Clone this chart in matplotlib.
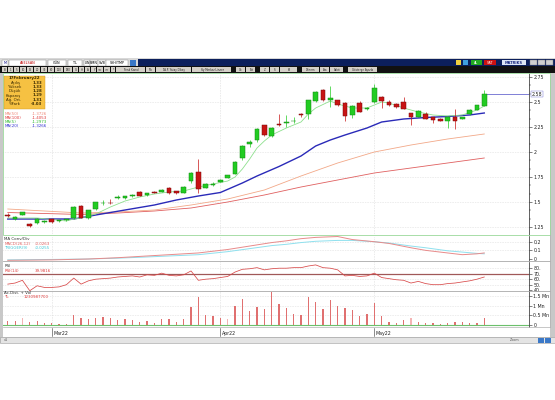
import matplotlib.pyplot as plt
import matplotlib.patches as mpatches
from matplotlib.transforms import blended_transform_factory
from matplotlib.ticker import MultipleLocator
import numpy as np

W, H = 555, 400

# daily candles, one per trading day (late Feb 2022 .. May 2022)
opens = [1.37, 1.33, 1.375, 1.285, 1.29, 1.30, 1.33, 1.31, 1.32, 1.34,
         1.465, 1.345, 1.43, 1.49, 1.495, 1.545, 1.54, 1.56, 1.605, 1.57,
         1.605, 1.605, 1.645, 1.61, 1.595, 1.71, 1.805, 1.645, 1.675, 1.705,
         1.745, 1.785, 1.945, 2.085, 2.12, 2.265, 2.16, 2.28, 2.295, 2.31,
         2.38, 2.38, 2.515, 2.62, 2.52, 2.52, 2.49, 2.37, 2.49, 2.43,
         2.50, 2.545, 2.505, 2.475, 2.50, 2.39, 2.355, 2.38, 2.35, 2.335,
         2.315, 2.35, 2.335, 2.38, 2.425, 2.465]
highs = [1.39, 1.365, 1.405, 1.29, 1.34, 1.32, 1.335, 1.325, 1.335, 1.46,
         1.47, 1.425, 1.50, 1.52, 1.53, 1.57, 1.565, 1.58, 1.61, 1.595,
         1.61, 1.63, 1.65, 1.615, 1.66, 1.80, 1.935, 1.69, 1.70, 1.735,
         1.775, 1.91, 2.07, 2.12, 2.24, 2.27, 2.25, 2.38, 2.37, 2.35,
         2.39, 2.52, 2.61, 2.63, 2.66, 2.525, 2.50, 2.47, 2.51, 2.45,
         2.68, 2.56, 2.52, 2.49, 2.55, 2.395, 2.42, 2.40, 2.355, 2.34,
         2.36, 2.43, 2.355, 2.43, 2.475, 2.62]
lows = [1.35, 1.32, 1.37, 1.255, 1.28, 1.295, 1.29, 1.305, 1.315, 1.33,
        1.34, 1.335, 1.42, 1.475, 1.48, 1.53, 1.535, 1.55, 1.56, 1.565,
        1.59, 1.60, 1.585, 1.585, 1.59, 1.69, 1.59, 1.64, 1.665, 1.70,
        1.74, 1.78, 1.925, 2.05, 2.10, 2.16, 2.15, 2.265, 2.25, 2.29,
        2.355, 2.33, 2.50, 2.515, 2.45, 2.46, 2.31, 2.34, 2.40, 2.42,
        2.49, 2.44, 2.46, 2.44, 2.43, 2.275, 2.35, 2.33, 2.29, 2.31,
        2.245, 2.235, 2.33, 2.375, 2.42, 2.46]
closes = [1.365, 1.355, 1.40, 1.26, 1.33, 1.31, 1.30, 1.32, 1.33, 1.455,
          1.345, 1.42, 1.495, 1.495, 1.49, 1.55, 1.56, 1.575, 1.565, 1.59,
          1.595, 1.625, 1.595, 1.59, 1.655, 1.795, 1.63, 1.68, 1.68, 1.725,
          1.77, 1.905, 2.06, 2.10, 2.235, 2.17, 2.245, 2.27, 2.30, 2.31,
          2.365, 2.515, 2.605, 2.52, 2.545, 2.47, 2.36, 2.465, 2.405, 2.435,
          2.645, 2.51, 2.475, 2.45, 2.435, 2.345, 2.41, 2.335, 2.32, 2.315,
          2.35, 2.315, 2.35, 2.425, 2.47, 2.58]

# volume in millions
volumes = [0.21, 0.21, 0.35, 0.18, 0.21, 0.12, 0.12, 0.09, 0.09, 0.53,
           0.35, 0.32, 0.39, 0.42, 0.39, 0.28, 0.32, 0.25, 0.18, 0.21,
           0.12, 0.30, 0.32, 0.18, 0.32, 0.91, 1.44, 0.53, 0.49, 0.39,
           0.32, 0.98, 1.33, 0.74, 0.95, 0.81, 1.67, 1.09, 0.88, 0.60,
           0.53, 1.44, 1.19, 0.84, 1.28, 0.96, 0.88, 0.77, 0.46, 0.56,
           1.12, 0.49, 0.18, 0.11, 0.28, 0.35, 0.18, 0.11, 0.11, 0.07,
           0.11, 0.18, 0.18, 0.11, 0.14, 0.39]
light_vol_days = [2, 30, 55]

# moving averages (day index, value)
ma5_days = [0, 4, 8, 9, 10, 12, 14, 16, 18, 20, 22, 24, 26, 28, 30, 31, 32, 33,
            34, 35, 36, 38, 40, 41, 42, 44, 45, 47, 49, 51, 52, 54, 56, 58, 60,
            62, 64, 65]
ma5 = [1.34, 1.34, 1.31, 1.33, 1.34, 1.38, 1.45, 1.51, 1.55, 1.58, 1.60, 1.61,
       1.65, 1.68, 1.71, 1.75, 1.83, 1.93, 2.04, 2.11, 2.17, 2.24, 2.30, 2.38,
       2.44, 2.51, 2.48, 2.44, 2.44, 2.50, 2.49, 2.44, 2.40, 2.37, 2.36, 2.37,
       2.42, 2.46]
ma20_days = [0, 5, 9, 12, 16, 20, 23, 26, 29, 32, 34, 37, 40, 42, 44, 46, 49,
             51, 54, 57, 60, 63, 65]
ma20 = [1.33, 1.33, 1.33, 1.37, 1.42, 1.47, 1.52, 1.56, 1.595, 1.69, 1.76,
        1.855, 1.96, 2.06, 2.12, 2.17, 2.24, 2.30, 2.33, 2.345, 2.355, 2.37, 2.39]
ma50_days = [0, 5, 10, 15, 20, 25, 30, 35, 40, 45, 50, 55, 60, 65]
ma50 = [1.43, 1.41, 1.39, 1.40, 1.42, 1.47, 1.53, 1.62, 1.76, 1.89, 2.00,
        2.07, 2.13, 2.18]
ma100_days = [0, 5, 10, 15, 20, 25, 30, 35, 40, 45, 50, 55, 60, 65]
ma100 = [1.395, 1.385, 1.375, 1.39, 1.41, 1.44, 1.50, 1.57, 1.65, 1.72, 1.79,
         1.84, 1.89, 1.94]

# MACD(26,12) and trigger(9)
macd_days = [0, 6, 11, 15, 18, 22, 26, 30, 33, 36, 38, 40, 42, 45, 47, 50, 52,
             55, 57, 60, 62, 64, 65]
macd = [-0.015, -0.01, 0.0, 0.015, 0.03, 0.05, 0.07, 0.11, 0.15, 0.19, 0.21,
        0.235, 0.25, 0.26, 0.225, 0.20, 0.18, 0.13, 0.10, 0.07, 0.05, 0.06, 0.07]
trigger = [-0.01, -0.005, 0.0, 0.01, 0.02, 0.035, 0.05, 0.085, 0.12, 0.155,
           0.17, 0.19, 0.205, 0.215, 0.215, 0.20, 0.185, 0.15, 0.13, 0.095,
           0.08, 0.065, 0.06]

# RSI(14)
rsi = [51, 53, 58, 39, 48, 45, 45, 46, 50, 62, 51, 57, 60, 61, 62, 64, 65, 66,
       64, 68, 67, 71, 67, 66, 68, 75, 58, 60, 61, 63, 65, 73, 78, 79, 81, 77,
       79, 80, 80, 81, 81, 84, 86, 81, 80, 77, 66, 67, 65, 66, 71, 63, 61, 59,
       58, 53, 56, 52, 50, 50, 52, 53, 55, 57, 60, 64]

month_days = [6, 29, 50]
month_labels = ['Mar22', 'Apr22', 'May22']

price_ticks = [1.25, 1.5, 1.75, 2.0, 2.25, 2.5, 2.75]
price_labels = ['1.25', '1.5', '1.75', '2', '2.25', '2.5', '2.75']
macd_ticks = [0, 0.1, 0.2]
macd_labels = ['0', '0.1', '0.2']
rsi_ticks = [40, 50, 60, 70, 80]
rsi_labels = ['40.', '50.', '60.', '70.', '80.']
vol_ticks = [0, 0.5, 1.0, 1.5]
vol_labels = ['0', '0.5 Mn', '1 Mn', '1.5 Mn']

info_rows = [('Açılış', '1.33'), ('Yüksek', '1.33'), ('Düşük', '1.28'),
             ('Kapanış', '1.29'), ('Ağ. Ort.', '1.31'), ('%Fark', '-3.03')]

GREEN_UP = '#22cc22'
RED_DN = '#c81414'
TXT = 3.4

fig = plt.figure(figsize=(W / 100, H / 100), dpi=100)
fig.patch.set_facecolor('white')

# window chrome drawn in pixel coords
bg = fig.add_axes([0, 0, 1, 1], zorder=0)
bg.set_xlim(0, W)
bg.set_ylim(H, 0)
bg.axis('off')


def rect(ax, x0, y0, x1, y1, fc, ec='none', lw=0.0):
    ax.add_patch(mpatches.Rectangle((x0, y0), x1 - x0, y1 - y0, facecolor=fc,
                                    edgecolor=ec, linewidth=lw))


rect(bg, 0, 58, W, 343, '#c8c8c8')
rect(bg, 3, 73, 550, 337, 'white')
rect(bg, 0, 337, W, 343, '#e4e4e4', '#a0a0a0', 0.4)

# title row
rect(bg, 0, 58, W, 66, '#d8d8d8')
rect(bg, 138, 59, W, 66, '#0c1f5c')
for x0, x1, lab, col in [(2, 8, 'M', 'navy'), (9, 46, 'ASELSAN', '#c00000'),
                         (48, 66, 'GÜN', 'black'), (68, 82, 'TL', 'black'),
                         (84, 90, 'LIN', 'black'), (90, 98, 'RMN', 'black'),
                         (98, 106, 'SVB', 'black'), (106, 128, 'SYH/TMP', 'black')]:
    rect(bg, x0, 59.5, x1, 65.5, 'white', '#808080', 0.3)
    bg.text((x0 + x1) / 2, 62.7, lab, fontsize=2.4, color=col, ha='center', va='center')
rect(bg, 130, 59.5, 136, 65.5, '#3a78c8')
rect(bg, 456, 60, 461, 65, '#f0d040')
rect(bg, 463, 60, 468, 65, '#40a0e0')
rect(bg, 471, 60, 482, 65, '#22aa22')
bg.text(476.5, 62.6, 'AL', fontsize=2.4, color='white', ha='center', va='center')
rect(bg, 484, 60, 496, 65, '#cc1111')
bg.text(490, 62.6, 'SAT', fontsize=2.4, color='white', ha='center', va='center')
rect(bg, 502, 60, 526, 65, '#dde6f5')
bg.text(514, 62.6, 'MATRIKS', fontsize=2.6, color='#1a2a80', ha='center', va='center',
        weight='bold')
for x0 in [530, 538, 546]:
    rect(bg, x0, 60, x0 + 7, 65, '#d0d0d0', '#808080', 0.3)

# tool row
rect(bg, 0, 66, W, 72.5, '#111111')
x = 2
for w, lab in [(6, 'B'), (6, '1'), (6, '5'), (7, '10'), (7, '15'), (7, '20'),
               (7, '30'), (7, '60'), (9, '120'), (9, '180'), (6, 'G'), (6, 'H'),
               (6, 'A'), (6, 'Y'), (7, '<<'), (7, '>>'), (5, '*'), (30, 'Trend Kanal'),
               (10, 'Fib'), (36, 'T.A.P. Yatay Dikey'), (40, 'Yay Merkez Lineer'),
               (4, ''), (10, 'Ok'), (10, 'Txt'), (4, ''), (10, 'Z'), (10, 'S'),
               (18, 'Sil'), (4, ''), (18, 'Dönem'), (10, 'Ara'), (14, 'Sabit'),
               (4, ''), (30, 'Gösterge Ayarla')]:
    if lab:
        rect(bg, x, 67, x + w - 0.8, 72, '#d4d0c8')
        bg.text(x + w / 2, 69.6, lab, fontsize=1.9, color='#222222', ha='center',
                va='center')
    x += w

# chart panels share the same day axis
panels_left, panels_right = 3, 529
xlim = (-0.65, 71.1)


def panel(y0, y1, ylim):
    ax = fig.add_axes([panels_left / W, 1 - y1 / H, (panels_right - panels_left) / W,
                       (y1 - y0) / H], zorder=2)
    ax.set_facecolor('none')
    ax.set_xlim(*xlim)
    ax.set_ylim(*ylim)
    ax.yaxis.tick_right()
    for s in ['left', 'top', 'bottom']:
        ax.spines[s].set_visible(False)
    ax.spines['right'].set_color('#222222')
    ax.spines['right'].set_linewidth(0.5)
    ax.tick_params(axis='y', which='major', labelsize=TXT, length=2.2, width=0.4,
                   pad=1, colors='#222222')
    ax.tick_params(axis='y', which='minor', length=1.2, width=0.3, colors='#222222')
    ax.tick_params(axis='x', bottom=False, labelbottom=False)
    for d in month_days:
        ax.axvline(d, color='#c0c0c0', lw=0.4, ls=(0, (1, 2)), zorder=0)
    return ax


def hgrid(ax, values):
    for v in values:
        ax.axhline(v, color='#c8c8c8', lw=0.4, ls=(0, (1, 2)), zorder=0)


# --- price panel ---
ax = panel(73, 235, (1.17, 2.79))
ax.set_yticks(price_ticks)
ax.set_yticklabels(price_labels)
ax.yaxis.set_minor_locator(MultipleLocator(0.25 / 3))
hgrid(ax, price_ticks)

ax.plot(ma100_days, ma100, color='#e06060', lw=0.6)
ax.plot(ma50_days, ma50, color='#f2a888', lw=0.6)
ax.plot(ma20_days, ma20, color='#2a2ab8', lw=1.0)
ax.plot(ma5_days, ma5, color='#8ee08e', lw=0.6)

days = np.arange(len(closes))
o = np.array(opens)
c = np.array(closes)
up = c >= o
face = np.where(up, GREEN_UP, RED_DN)
edge = np.where(up, '#128a12', '#7a0a0a')
ax.vlines(days, lows, highs, colors=face, lw=0.5, zorder=3)
ax.bar(days, np.maximum(np.abs(c - o), 0.004), bottom=np.minimum(o, c), width=0.62,
       color=face, edgecolor=edge, linewidth=0.35, zorder=4)

# last price marker
ax.hlines(closes[-1], days[-1], xlim[1], color='#6a6ad0', lw=0.6, zorder=3)
ax.annotate(f'{closes[-1]:.2f}', xy=(1.0, closes[-1]), xycoords=('axes fraction', 'data'),
            xytext=(2.2, 0), textcoords='offset points', fontsize=TXT, va='center',
            ha='left', color='#222222',
            bbox=dict(boxstyle='square,pad=0.15', fc='white', ec='#6a6ad0', lw=0.3))

# --- MACD panel ---
mx = panel(236, 261, (-0.023, 0.266))
mx.set_yticks(macd_ticks)
mx.set_yticklabels(macd_labels)
hgrid(mx, [0.1, 0.2])
mx.plot(macd_days, trigger, color='#8ee0ee', lw=0.7)
mx.plot(macd_days, macd, color='#e88a8a', lw=0.7)

# --- RSI panel ---
rx = panel(262, 291, (38.5, 91.3))
rx.set_yticks(rsi_ticks)
rx.set_yticklabels(rsi_labels)
hgrid(rx, [50, 60, 80])
rx.axhline(70, color='#a05858', lw=0.9, zorder=1)
rx.plot(days, rsi, color='#d84848', lw=0.55)

# --- volume panel ---
vx = panel(291, 327, (-0.081, 1.737))
vx.set_yticks(vol_ticks)
vx.set_yticklabels(vol_labels)
hgrid(vx, [0.5, 1.0, 1.5])
vcols = ['#f4b4b4' if d in light_vol_days else '#e07070' for d in days]
vx.bar(days, volumes, width=0.16, color=vcols, zorder=2)
vx.axhline(0, color='#6cc06c', lw=0.8, zorder=3)

# month labels under the volume panel
tr = blended_transform_factory(vx.transData, vx.transAxes)
for d, lab in zip(month_days, month_labels):
    vx.plot([d, d], [-0.02, -0.25], color='#333333', lw=0.4, transform=tr, clip_on=False)
    vx.text(d + 0.2, -0.17, lab, transform=tr, fontsize=TXT, ha='left', va='center',
            color='#222222', clip_on=False)

# overlay: panel borders, legends, info box
ov = fig.add_axes([0, 0, 1, 1], zorder=5)
ov.set_facecolor('none')
ov.set_xlim(0, W)
ov.set_ylim(H, 0)
ov.axis('off')
ov.add_patch(mpatches.Rectangle((3, 73), 547, 162, fill=False, ec='#9ad89a', lw=0.6))
for y in [261, 291.2]:
    ov.plot([3, 550], [y, y], color='#a8a8a8', lw=0.6)
ov.plot([3, 550], [327, 327], color='#b0b0b0', lw=0.5)
ov.plot([550, 550], [235, 327], color='#b0b0b0', lw=0.5)

# info box
ov.add_patch(mpatches.Rectangle((3.5, 75.5), 41.5, 33, fc='#f6c142', ec='#d09a20', lw=0.3))
ov.text(24, 78.5, '17February22', fontsize=2.9, ha='center', va='center',
        color='#3a2a00', weight='bold')
for k, (lab, val) in enumerate(info_rows):
    yy = 83.2 + k * 4.1
    ov.text(21, yy, lab, fontsize=2.8, ha='right', va='center', color='#3a2a00')
    ov.text(42, yy, val, fontsize=2.8, ha='right', va='center', color='#3a2a00',
            weight='bold')

for k, (lab, val, col) in enumerate([('MA(50)', '-1.3726', '#f08a7a'),
                                     ('MA(100)', '-1.4053', '#e03a3a'),
                                     ('MA(5)', '-1.2973', '#33bb33'),
                                     ('MA(20)', '-1.3266', '#3030d0')]):
    yy = 114.2 + k * 4.0
    ov.text(4.5, yy, lab, fontsize=2.9, color=col, va='center')
    ov.text(32, yy, val, fontsize=2.9, color=col, va='center')

ov.text(4.5, 239.5, 'MA Conv/Div', fontsize=2.9, color='#333333', va='center')
ov.text(4.5, 243.8, 'MACD(26,12)', fontsize=2.9, color='#e06060', va='center')
ov.text(35, 243.8, '-0.0263', fontsize=2.9, color='#e06060', va='center')
ov.text(4.5, 247.8, 'TRIGGER(9)', fontsize=2.9, color='#40c8d8', va='center')
ov.text(35, 247.8, '-0.0255', fontsize=2.9, color='#40c8d8', va='center')

ov.text(4.5, 266.3, 'RSI', fontsize=2.9, color='#333333', va='center')
ov.text(4.5, 270.5, 'RSI(14)', fontsize=2.9, color='#e03a3a', va='center')
ov.text(35, 270.5, '39.9816', fontsize=2.9, color='#e03a3a', va='center')

ov.text(4.5, 293.5, 'Ac.Dist. + Vol', fontsize=2.9, color='#333333', va='center')
ov.text(4.5, 297.5, 'TL', fontsize=2.9, color='#e03a3a', va='center')
ov.text(24, 297.5, '1230987700', fontsize=2.9, color='#e03a3a', va='center')

# status bar bits
ov.text(4, 339.8, 'v1', fontsize=2.4, color='#555555', va='center')
ov.text(520, 339.8, 'Zoom', fontsize=2.4, color='#555555', va='center', ha='right')
ov.add_patch(mpatches.Rectangle((538, 337.5), 6, 5, fc='#3a78c8', ec='none'))
ov.add_patch(mpatches.Rectangle((545, 337.5), 6, 5, fc='#3a78c8', ec='none'))

fig.savefig('out.png', dpi=100)
